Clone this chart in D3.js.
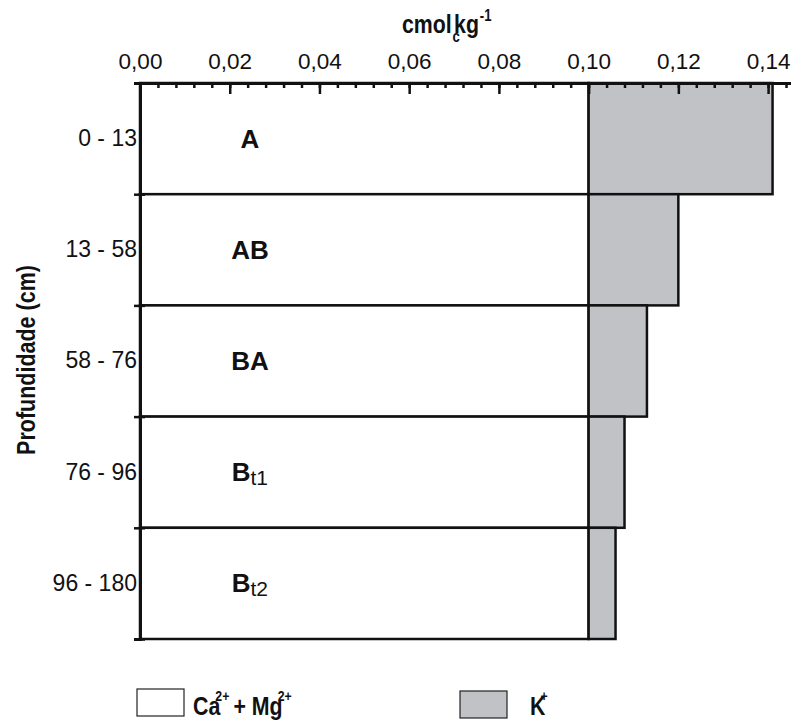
<!DOCTYPE html>
<html>
<head>
<meta charset="utf-8">
<script src="https://cdn.jsdelivr.net/npm/d3@7"></script>
<style>
  body { margin: 0; background: #fff; }
  svg { font-family: "Liberation Sans", Arial, sans-serif; }
</style>
</head>
<body>
<svg id="chart" width="799" height="720"></svg>
<script>
// depth rows (cm) and horizon names
var depths = ["0 - 13", "13 - 58", "58 - 76", "76 - 96", "96 - 180"];
var horizons = ["A", "AB", "BA", "B", "B"];
var horizonSubs = ["", "", "", "t1", "t2"];

// cmolc/kg
var caMg = [0.10, 0.10, 0.10, 0.10, 0.10];
var kVals = [0.041, 0.020, 0.013, 0.008, 0.006];

var majorTicks = [0, 0.02, 0.04, 0.06, 0.08, 0.10, 0.12, 0.14];
var minorTicks = d3.range(0, 37).map(function(i) { return i * 0.004; });

var grey = "#c1c2c5";
var ink = "#111";
var narrow = 0.82; // squeeze for the condensed bold labels

var svg = d3.select("#chart");

var x = d3.scaleLinear().domain([0, 0.145]).range([140, 790.5]);
var y = d3.scaleBand().domain(depths).range([83, 639]);
var yEdge = d3.scaleLinear().domain([0, depths.length]).range([83, 639]);

var comma = d3.formatLocale({decimal: ",", thousands: ".", grouping: [3], currency: ["", ""]}).format(".2f");

var rows = depths.map(function(d, i) {
  return {depth: d, ca: caMg[i], k: kVals[i], hz: horizons[i], sub: horizonSubs[i]};
});

// Ca + Mg part (white)
svg.append("g").selectAll("rect")
  .data(rows).enter().append("rect")
  .attr("x", x(0))
  .attr("y", function(d) { return y(d.depth); })
  .attr("width", function(d) { return x(d.ca) - x(0); })
  .attr("height", y.bandwidth())
  .attr("fill", "#fff")
  .attr("stroke", ink)
  .attr("stroke-width", 2.5);

// K part (grey)
svg.append("g").selectAll("rect")
  .data(rows).enter().append("rect")
  .attr("x", function(d) { return x(d.ca); })
  .attr("y", function(d) { return y(d.depth); })
  .attr("width", function(d) { return x(d.ca + d.k) - x(d.ca); })
  .attr("height", y.bandwidth())
  .attr("fill", grey)
  .attr("stroke", ink)
  .attr("stroke-width", 2.5);

// horizon labels
var hz = svg.append("g").selectAll("text")
  .data(rows).enter().append("text")
  .attr("x", x(0.0245))
  .attr("y", function(d) { return y(d.depth) + y.bandwidth() / 2 + 9; })
  .attr("text-anchor", "middle")
  .attr("font-size", 26)
  .attr("font-weight", "bold")
  .attr("fill", ink);
hz.append("tspan").text(function(d) { return d.hz; });
hz.append("tspan")
  .attr("dy", 4)
  .attr("font-size", 21)
  .attr("font-weight", "normal")
  .text(function(d) { return d.sub; });

// top axis: minor ticks
svg.append("g")
  .attr("transform", "translate(0," + y.range()[0] + ")")
  .call(d3.axisTop(x).tickValues(minorTicks).tickSize(-5).tickFormat(""))
  .call(function(g) {
    g.select(".domain").remove();
    g.selectAll("line").attr("stroke", ink).attr("stroke-width", 2.5);
  });

// top axis: major ticks + labels
svg.append("g")
  .attr("transform", "translate(0," + y.range()[0] + ")")
  .call(d3.axisTop(x).tickValues(majorTicks).tickSizeInner(-11).tickSizeOuter(0)
    .tickPadding(14).tickFormat(comma))
  .call(function(g) {
    g.select(".domain").attr("stroke", ink).attr("stroke-width", 3);
    g.selectAll("line").attr("stroke", ink).attr("stroke-width", 2.5);
    g.selectAll("text").attr("font-size", 22.5).attr("fill", ink)
      .attr("font-family", "Liberation Sans, Arial, sans-serif");
  });

// left axis: boundary ticks
svg.append("g")
  .attr("transform", "translate(" + x(0) + ",0)")
  .call(d3.axisLeft(yEdge).ticks(depths.length).tickSize(6).tickFormat(""))
  .call(function(g) {
    g.select(".domain").attr("stroke", ink).attr("stroke-width", 3);
    g.selectAll("line").attr("stroke", ink).attr("stroke-width", 2.5)
      .attr("x2", -6).attr("x1", 5);
  });

// left axis: depth labels
svg.append("g")
  .attr("transform", "translate(" + x(0) + ",0)")
  .call(d3.axisLeft(y).tickSize(0).tickPadding(3))
  .call(function(g) {
    g.select(".domain").remove();
    g.selectAll("text").attr("font-size", 23).attr("fill", ink)
      .attr("font-family", "Liberation Sans, Arial, sans-serif");
  });

// axis titles
var title = svg.append("g")
  .attr("transform", "translate(402,33) scale(" + narrow + ",1)")
  .append("text")
  .attr("font-size", 26).attr("font-weight", "bold").attr("fill", ink);
title.append("tspan").text("cmol");
title.append("tspan").attr("dx", 1).attr("dy", 9).attr("font-size", 16).text("c");
title.append("tspan").attr("dx", -7).attr("dy", -9).text("kg");
title.append("tspan").attr("dx", 1).attr("dy", -12).attr("font-size", 16).text("-1");

svg.append("g")
  .attr("transform", "translate(35,360) rotate(-90) scale(0.86,1)")
  .append("text")
  .attr("text-anchor", "middle")
  .attr("font-size", 25).attr("font-weight", "bold").attr("fill", ink)
  .text("Profundidade (cm)");

// legend
var legend = [
  {fill: "#fff", lx: 137, tx: 193, parts: [["Ca", 0], ["2+", 1], ["+ Mg", 0], ["2+", 1]]},
  {fill: grey, lx: 460, tx: 530, parts: [["K", 0], ["+", 1]]}
];
legend.forEach(function(l, i) {
  svg.append("rect")
    .attr("x", l.lx).attr("y", 689 + 2 * i).attr("width", 47).attr("height", 27)
    .attr("fill", l.fill).attr("stroke", "#222").attr("stroke-width", 1.2);
  var t = svg.append("g")
    .attr("transform", "translate(" + l.tx + ",715) scale(" + narrow + ",1)")
    .append("text")
    .attr("font-size", 26).attr("font-weight", "bold").attr("fill", ink);
  l.parts.forEach(function(p, j) {
    var s = t.append("tspan").text(p[0]);
    if (p[1]) s.attr("font-size", 15).attr("dy", -14).attr("dx", -6);
    else if (j > 0) s.attr("dy", 14).attr("dx", 5);
  });
});
</script>
</body>
</html>
